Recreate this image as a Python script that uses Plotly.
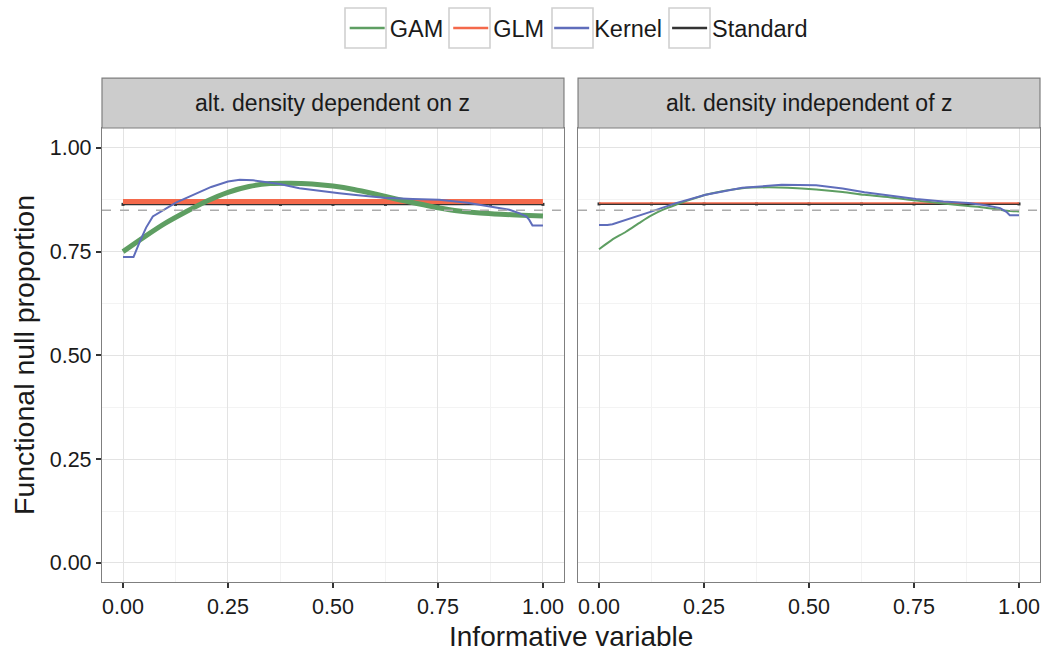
import plotly.graph_objects as go

# ---------------- data ----------------
panels = ["alt. density dependent on z", "alt. density independent of z"]

gam_dep_x = [0, 0.05, 0.1, 0.15, 0.2, 0.25, 0.3, 0.35, 0.4, 0.45, 0.5, 0.55, 0.6, 0.65, 0.7, 0.75, 0.8, 0.85, 0.9, 0.95, 1.0]
gam_dep_y = [0.750, 0.785, 0.818, 0.846, 0.872, 0.893, 0.907, 0.914, 0.915, 0.913, 0.908, 0.900, 0.889, 0.877, 0.866, 0.856, 0.848, 0.843, 0.840, 0.838, 0.836]

ker_dep_x = [0, 0.025, 0.04, 0.055, 0.071, 0.104, 0.126, 0.15, 0.183, 0.21, 0.25, 0.278, 0.31, 0.373, 0.42, 0.47, 0.515, 0.56, 0.622, 0.69, 0.753, 0.82, 0.879, 0.92, 0.943, 0.96, 0.967, 0.975, 1.0]
ker_dep_y = [0.737, 0.737, 0.774, 0.808, 0.835, 0.855, 0.868, 0.879, 0.893, 0.906, 0.919, 0.923, 0.922, 0.913, 0.903, 0.896, 0.891, 0.886, 0.880, 0.877, 0.875, 0.868, 0.859, 0.851, 0.843, 0.835, 0.827, 0.813, 0.813]

gam_ind_x = [0, 0.03, 0.064, 0.1, 0.126, 0.15, 0.183, 0.22, 0.254, 0.3, 0.341, 0.4, 0.45, 0.517, 0.58, 0.632, 0.7, 0.755, 0.82, 0.879, 0.92, 0.955, 0.98, 1.0]
gam_ind_y = [0.756, 0.778, 0.798, 0.822, 0.838, 0.850, 0.863, 0.876, 0.887, 0.897, 0.903, 0.905, 0.904, 0.900, 0.894, 0.887, 0.880, 0.873, 0.866, 0.860, 0.856, 0.851, 0.848, 0.847]

ker_ind_x = [0, 0.02, 0.032, 0.06, 0.09, 0.126, 0.183, 0.254, 0.341, 0.435, 0.517, 0.58, 0.632, 0.7, 0.755, 0.82, 0.879, 0.92, 0.955, 0.97, 0.978, 1.0]
ker_ind_y = [0.814, 0.814, 0.816, 0.825, 0.836, 0.847, 0.867, 0.887, 0.904, 0.911, 0.910, 0.902, 0.893, 0.884, 0.877, 0.871, 0.867, 0.862, 0.855, 0.846, 0.838, 0.838]

flat_x = [0, 0.125, 0.25, 0.375, 0.5, 0.625, 0.75, 0.875, 1.0]
glm_dep = 0.871
std_dep = 0.864
glm_ind = 0.867
std_ind = 0.865
ref_level = 0.85

tick_vals = [0, 0.25, 0.5, 0.75, 1.0]
tick_text = ["0.00", "0.25", "0.50", "0.75", "1.00"]

methods = ["GAM", "GLM", "Kernel", "Standard"]

# ---------------- styles ----------------
C_GAM = "#5E9E62"
C_GLM = "#F4694B"
C_KER = "#5F6DBB"
C_STD = "#333333"
colors = {"GAM": C_GAM, "GLM": C_GLM, "Kernel": C_KER, "Standard": C_STD}
FONT = "Liberation Sans, Arial, sans-serif"

W, H = 1047, 651
ML, MR, MT, MB = 102, 7, 128, 69
PW, PH = W - ML - MR, H - MT - MB

fig = go.Figure()

def add(xs, ys, name, width, axis, markers=False, shape="linear"):
    xa = "x" if axis == 1 else "x2"
    ya = "y" if axis == 1 else "y2"
    fig.add_trace(go.Scatter(
        x=xs, y=ys, name=name, showlegend=False,
        mode="lines+markers" if markers else "lines",
        line=dict(color=colors[name], width=width, shape=shape, smoothing=0.8 if shape == "spline" else None),
        marker=dict(symbol="square", size=3, color=colors[name]),
        xaxis=xa, yaxis=ya))

# left panel
add(flat_x, [std_dep] * len(flat_x), "Standard", 2, 1, True)
add(flat_x, [glm_dep] * len(flat_x), "GLM", 5, 1)
add(gam_dep_x, gam_dep_y, "GAM", 5, 1, shape="spline")
add(ker_dep_x, ker_dep_y, "Kernel", 2, 1)
# right panel
add(flat_x, [std_ind] * len(flat_x), "Standard", 2, 2, True)
add(flat_x, [glm_ind] * len(flat_x), "GLM", 1.5, 2)
add(gam_ind_x, gam_ind_y, "GAM", 2, 2, shape="spline")
add(ker_ind_x, ker_ind_y, "Kernel", 2, 2)

# legend-only traces in order
for nm in methods:
    fig.add_trace(go.Scatter(x=[None], y=[None], name=nm, mode="lines",
                             line=dict(color=colors[nm], width=2.5), showlegend=True,
                             xaxis="x", yaxis="y"))

axis_common = dict(
    range=[-0.05, 1.05], tickvals=tick_vals, ticktext=tick_text,
    showgrid=True, gridcolor="#E3E3E3", gridwidth=1,
    minor=dict(showgrid=True, gridcolor="#F3F3F3", gridwidth=0.8, dtick=0.125, tick0=0.125),
    zeroline=False, showline=True, mirror=True, linecolor="#7F7F7F", linewidth=1.2,
    ticks="outside", ticklen=5, tickcolor="#333333", tickwidth=1.5,
    tickfont=dict(family=FONT, size=21.5, color="#1a1a1a"),
)

fig.update_layout(
    width=W, height=H,
    margin=dict(l=ML, r=MR, t=MT, b=MB, autoexpand=False),
    paper_bgcolor="white", plot_bgcolor="white",
    font=dict(family=FONT, color="#1a1a1a"),
    xaxis=dict(domain=[0, 0.4925], anchor="y", **axis_common),
    xaxis2=dict(domain=[0.5075, 1], anchor="y2", **axis_common),
    yaxis=dict(domain=[0, 1], anchor="x",
               title=dict(text="Functional null proportion", font=dict(size=28.5, family=FONT), standoff=6),
               **{**axis_common, "range": [-0.046, 1.048]}),
    yaxis2=dict(domain=[0, 1], anchor="x2", matches="y", showticklabels=False,
                **{**axis_common, "range": [-0.046, 1.048], "ticks": ""}),
    legend=dict(orientation="h", x=0.5082, xanchor="center", y=1.22, yanchor="middle",
                font=dict(family=FONT, size=23.5, color="#1a1a1a"),
                itemwidth=35, bgcolor="rgba(0,0,0,0)", tracegroupgap=0),
    showlegend=True,
)

# legend key boxes (ggplot-style)
key_boxes_px = [(345, 386), (449, 490), (552, 593), (669, 710)]
for x0, x1 in key_boxes_px:
    fig.add_shape(type="rect", xref="paper", yref="paper",
                  x0=(x0 - ML) / PW, x1=(x1 - ML) / PW,
                  y0=(H - MB - 48) / PH, y1=(H - MB - 8) / PH,
                  line=dict(color="#D0D0D0", width=1.6), fillcolor="rgba(0,0,0,0)")

# dashed reference lines
for xr, yr in [("x", "y"), ("x2", "y2")]:
    fig.add_shape(type="line", xref=f"{xr} domain", yref=yr, x0=0, x1=1, y0=ref_level, y1=ref_level,
                  line=dict(color="#ABABAB", width=1.5, dash="dash"), layer="above")

# facet strips
for xr, label in zip(["x", "x2"], panels):
    fig.add_shape(type="rect", xref=f"{xr} domain", yref="paper", x0=0, x1=1, y0=1.0, y1=1.11,
                  fillcolor="#CCCCCC", line=dict(color="#7F7F7F", width=1.2))
    fig.add_annotation(text=label, xref=f"{xr} domain", yref="paper", x=0.5, y=1.055,
                       showarrow=False, font=dict(family=FONT, size=23, color="#1a1a1a"),
                       xanchor="center", yanchor="middle")

# x axis title shared
fig.add_annotation(text="Informative variable", xref="paper", yref="paper", x=0.5, y=-0.12,
                   showarrow=False, font=dict(family=FONT, size=28, color="#1a1a1a"),
                   xanchor="center", yanchor="middle")

fig.write_html("out.html")
